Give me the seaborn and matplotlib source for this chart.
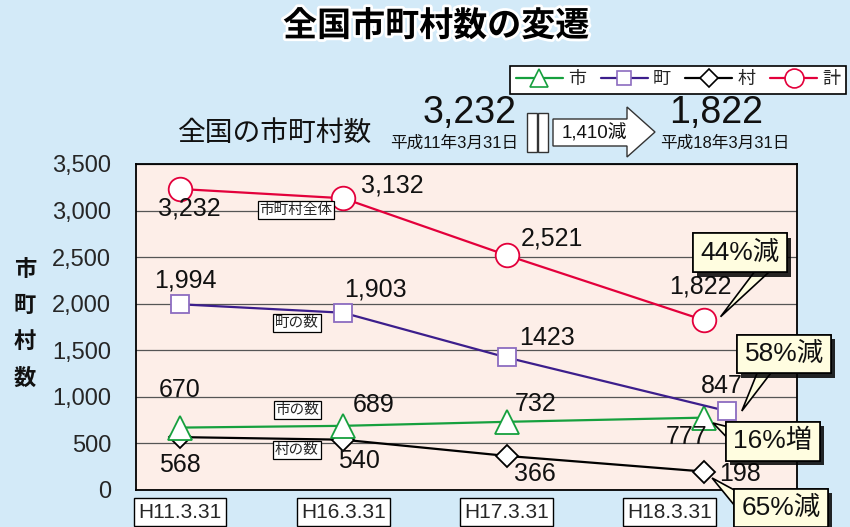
import numpy as np
import pandas as pd
import matplotlib
matplotlib.use("Agg")
import matplotlib.pyplot as plt
import matplotlib.patheffects as pe
from matplotlib.patches import Rectangle, Polygon
from matplotlib.transforms import IdentityTransform
from matplotlib.lines import Line2D
import seaborn as sns

# ---------------- data ----------------
categories = ["H11.3.31", "H16.3.31", "H17.3.31", "H18.3.31"]
kei = [3232, 3132, 2521, 1822]   # 計 (市町村全体)
machi = [1994, 1903, 1423, 847]  # 町
shi = [670, 689, 732, 777]       # 市
mura = [568, 540, 366, 198]      # 村
series_names = ["市", "町", "村", "計"]
tag_labels = ["市町村全体", "町の数", "市の数", "村の数"]
callout_texts = ["44%減", "58%減", "16%増", "65%減"]
total_before, total_after, total_diff = 3232, 1822, 1410
date_before, date_after = "平成11年3月31日", "平成18年3月31日"
y_ticks = [0, 500, 1000, 1500, 2000, 2500, 3000, 3500]

# ---------------- style ----------------
BG = "#D3EAF8"
PLOT_BG = "#FDEEE8"
RED = "#E3003B"
PURPLE = "#3C1E8C"
PURPLE_M = "#8C6CC0"
GREEN = "#16A03E"
BLACK = "#000000"
CREAM = "#FFFDE0"
W, H = 850, 527

sns.set_style("white")
plt.rcParams["font.family"] = ["Liberation Sans", "Noto Sans CJK JP", "DejaVu Sans"]

fig = plt.figure(figsize=(8.5, 5.27), dpi=100, facecolor=BG)
ax = fig.add_axes([136 / W, 37 / H, 661 / W, 326 / H])
ax.set_facecolor(PLOT_BG)

xs = np.arange(len(categories), dtype=float)
# last points are drawn slightly to the right of the tick (as in the original)
last_nudge = np.array([0, 0, 0, 0.21])
machi_nudge = np.array([0, 0, 0, 0.35])

styles = {
    "計": dict(color=RED, marker="o", markersize=17, mec=RED, nudge=last_nudge, vals=kei),
    "町": dict(color=PURPLE, marker="s", markersize=13, mec=PURPLE_M, nudge=machi_nudge, vals=machi),
    "市": dict(color=GREEN, marker="^", markersize=17, mec=GREEN, nudge=last_nudge, vals=shi),
    "村": dict(color=BLACK, marker="D", markersize=11, mec=BLACK, nudge=last_nudge, vals=mura),
}

for name in ["村", "市", "町", "計"]:
    st = styles[name]
    df = pd.DataFrame({"x": xs + st["nudge"], "y": st["vals"]})
    sns.lineplot(data=df, x="x", y="y", ax=ax, color=st["color"], lw=1.6,
                 marker=st["marker"], markersize=st["markersize"],
                 markerfacecolor="white", markeredgecolor=st["mec"],
                 markeredgewidth=1.3, zorder=3, label=None)

ax.set_xlim(-0.269, 3.778)
ax.set_ylim(0, 3500)
ax.set_yticks(y_ticks, labels=[f"{v:,}" for v in y_ticks])
ax.set_xticks(xs, labels=categories)
ax.set_xlabel("")
ax.set_ylabel("")
ax.grid(axis="y", color="#555555", lw=0.9, zorder=0)
ax.grid(axis="x", visible=False)
ax.set_axisbelow(True)
for s in ax.spines.values():
    s.set_color("black")
    s.set_linewidth(1.3)
ax.tick_params(axis="y", length=0, pad=18, labelsize=17)
ax.tick_params(axis="x", direction="in", length=6, width=1, color="black",
               pad=9, labelsize=15)
for lbl in ax.get_xticklabels():
    lbl.set_bbox(dict(boxstyle="square,pad=0.2", fc="white", ec="black", lw=1))

# ---------------- value labels ----------------
offsets = {
    "計": [(7, -14), (35, 9), (33, 12), (-3, 24)],
    "町": [(4, 17), (23, 17), (29, 14), (-4, 18)],
    "市": [(0, 27), (22, 15), (21, 13), (-13, -14)],
    "村": [(0, -20), (11, -15), (20, -13), (26, -2)],
}
plain = {("町", 2)}
for name, offs in offsets.items():
    st = styles[name]
    for i, v in enumerate(st["vals"]):
        txt = f"{v}" if (name, i) in plain else f"{v:,}"
        ax.annotate(txt, xy=(xs[i] + st["nudge"][i], v), xytext=offs[i],
                    textcoords="offset points", ha="center", va="center",
                    fontsize=18, color="#111111", zorder=5)

# small series tags
tag_pos = [(0.71, 3006), (0.716, 1793), (0.72, 859), (0.716, 429)]
for t, (tx, ty) in zip(tag_labels, tag_pos):
    ax.text(tx, ty, t, fontsize=10.5, ha="center", va="center", zorder=4,
            bbox=dict(boxstyle="square,pad=0.12", fc="white", ec="black", lw=0.9))

# callouts: (tip in data, box centre in data, base offset px (dx, dy down), base orientation)
callouts = [
    ((3.31, 1860), (3.43, 2545), (28, 12), "h"),
    ((3.44, 848), (3.70, 1460), (-15, 10), "h"),
    ((3.264, 719), (3.63, 525), (-38, -4), "v"),
    ((3.258, 129), (3.68, -193), (-44, -8), "v"),
]
HALF = 8.5
for t, (tip, box, boff, orient) in zip(callout_texts, callouts):
    bx, by = ax.transData.transform(box)
    tx_, ty_ = ax.transData.transform(tip)
    cx, cy = bx + boff[0], by - boff[1]
    if orient == "h":
        base = [(cx - HALF, cy), (cx + HALF, cy)]
    else:
        base = [(cx, cy + HALF), (cx, cy - HALF)]
    wedge = Polygon([base[0], (tx_, ty_), base[1]], closed=True,
                    transform=IdentityTransform(), fc=CREAM, ec="black", lw=1.2,
                    zorder=5.5, clip_on=False)
    ax.add_artist(wedge)
    txt = ax.text(box[0], box[1], t, ha="center", va="center", fontsize=19,
                  color="#111111", zorder=6, clip_on=False,
                  bbox=dict(boxstyle="square,pad=0.28", fc=CREAM, ec="black", lw=1.2))
    txt.get_bbox_patch().set_path_effects(
        [pe.withSimplePatchShadow(offset=(3, -3), shadow_rgbFace="black", alpha=0.85),
         pe.Normal()])

# ---------------- header ----------------
fig.text(0.513, 0.949, "全国市町村数の変遷", ha="center", va="center",
         fontsize=24.5, fontweight="bold", color="black",
         path_effects=[pe.withStroke(linewidth=4, foreground="white")])

fig.text(178 / W, 1 - 134 / H, "全国の市町村数", ha="left", va="center",
         fontsize=20, color="#111111")
fig.text(470 / W, 1 - 113 / H, f"{total_before:,}", ha="center", va="center",
         fontsize=27, color="#111111")
fig.text(454 / W, 1 - 143 / H, date_before, ha="center", va="center",
         fontsize=12, color="#111111")
fig.text(716 / W, 1 - 113 / H, f"{total_after:,}", ha="center", va="center",
         fontsize=27, color="#111111")
fig.text(725 / W, 1 - 143 / H, date_after, ha="center", va="center",
         fontsize=12, color="#111111")
for x0 in (527, 538):
    fig.patches.append(Rectangle((x0 / W, 1 - 152 / H), 10 / W, 39 / H,
                                 transform=fig.transFigure, fc="white", ec="#333333",
                                 lw=1))
arrow_px = [(553, 119), (627, 119), (627, 107), (655, 132), (627, 157), (627, 146), (553, 146)]
fig.patches.append(Polygon([(x / W, 1 - y / H) for x, y in arrow_px], closed=True,
                           transform=fig.transFigure, fc="white", ec="#333333", lw=1))
fig.text(594 / W, 1 - 133 / H, f"{total_diff:,}減", ha="center", va="center",
         fontsize=13.5, color="#111111")

# y label
fig.text(25 / W, 1 - 325 / H, "市\n町\n村\n数", ha="center", va="center",
         fontsize=16, fontweight="bold", linespacing=1.95, color="#111111")

# legend
handles = []
for name in series_names:
    st = styles[name]
    handles.append(Line2D([], [], color=st["color"], lw=1.6, marker=st["marker"],
                          markersize=st["markersize"] * 0.8, markerfacecolor="white",
                          markeredgecolor=st["mec"], markeredgewidth=1.2))
leg = fig.legend(handles, series_names, loc="upper right",
                 bbox_to_anchor=(846 / W, 1 - 66 / H), ncol=4, fontsize=13,
                 frameon=True, fancybox=False, edgecolor="black", framealpha=1,
                 handlelength=2.6, handletextpad=0.3, columnspacing=0.8,
                 borderpad=0.3, borderaxespad=0)
leg.get_frame().set_linewidth(1.2)

fig.savefig("out.png", dpi=100, facecolor=BG)
